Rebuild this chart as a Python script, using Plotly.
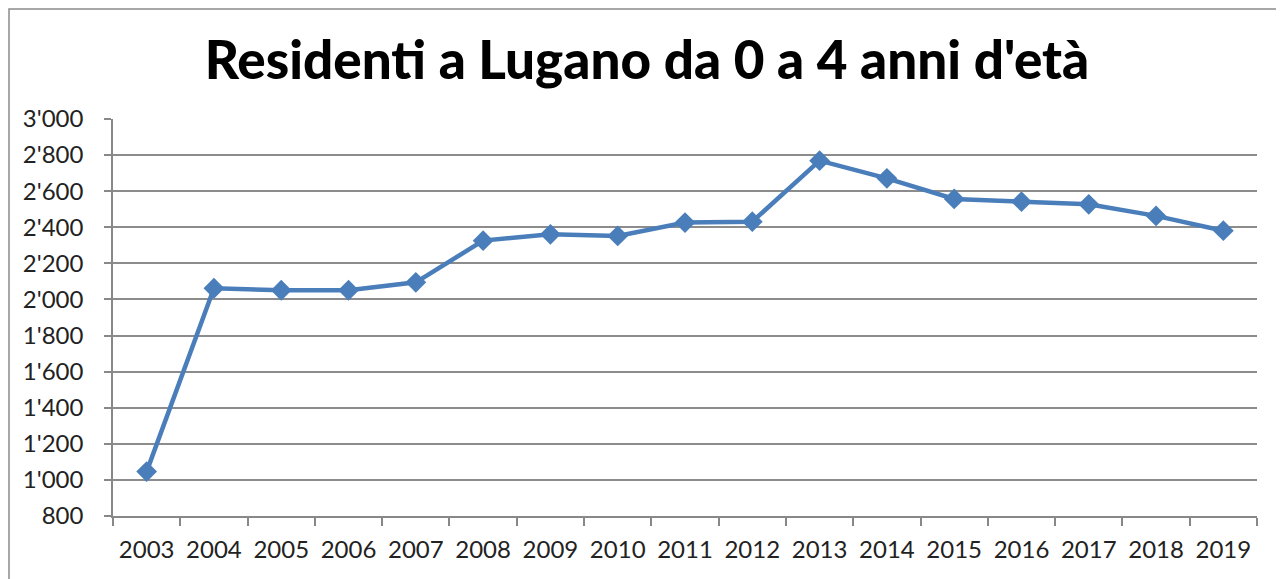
import plotly.graph_objects as go

years = ["2003", "2004", "2005", "2006", "2007", "2008", "2009", "2010", "2011",
         "2012", "2013", "2014", "2015", "2016", "2017", "2018", "2019"]
residents = [1046, 2062, 2051, 2051, 2095, 2326, 2361, 2352, 2426,
             2431, 2769, 2671, 2557, 2542, 2527, 2463, 2381]
y_tickvals = [800, 1000, 1200, 1400, 1600, 1800, 2000, 2200, 2400, 2600, 2800, 3000]
y_ticktext = ["800", "1'000", "1'200", "1'400", "1'600", "1'800", "2'000",
              "2'200", "2'400", "2'600", "2'800", "3'000"]
title_text = "Residenti a Lugano da 0 a 4 anni d'età"

# page body has an 8px default margin: figure sits at (8, 8)
OFF = 8
W, H = 1284 - OFF, 579 - OFF
L, T = 113 - OFF, 119 - OFF
R = W - (1257 - OFF)
B = H - (516 - OFF)
pw, ph = W - L - R, H - T - B

fig = go.Figure()
fig.add_trace(go.Scatter(
    x=years, y=residents, mode="lines+markers",
    line=dict(color="#4A7EBB", width=4.5),
    marker=dict(symbol="diamond", size=16, color="#4A7EBB"),
    showlegend=False,
))

axis_font = dict(family="Lato, 'Open Sans', sans-serif", size=24, color="#222222")

fig.update_layout(
    width=W, height=H,
    margin=dict(l=L, r=R, t=T, b=B, autoexpand=False),
    paper_bgcolor="white", plot_bgcolor="white",
    title=dict(text=title_text, x=(647 - OFF) / W, xanchor="center",
               y=1 - (60 - OFF) / H, yanchor="middle",
               font=dict(family="Lato, 'Open Sans', sans-serif", size=53,
                         color="black", weight=900)),
    xaxis=dict(type="category", range=[-0.5, len(years) - 0.5],
               tickson="boundaries", ticks="outside", ticklen=8,
               tickcolor="#888888", tickwidth=1.5, automargin=False, tickangle=0,
               showline=True, linecolor="#888888", linewidth=1.5,
               showgrid=False, tickfont=axis_font, ticklabelstandoff=11),
    yaxis=dict(range=[800, 3000], tickvals=y_tickvals, ticktext=y_ticktext,
               ticks="outside", ticklen=7, tickcolor="#888888", tickwidth=1.5,
               automargin=False,
               showline=True, linecolor="#888888", linewidth=1.5,
               showgrid=True, gridcolor="#8c8c8c", gridwidth=1.5,
               zeroline=False, tickfont=axis_font, ticklabelstandoff=16),
)

# chart area border
fig.add_shape(type="rect", xref="paper", yref="paper",
              x0=-(L - 1) / pw, x1=(1281 - OFF - L) / pw,
              y0=-(B + 5) / ph, y1=(H - B - 1) / ph,
              line=dict(color="#8a8a8a", width=1.5), fillcolor="rgba(0,0,0,0)",
              layer="below")

fig.write_html("out.html")
